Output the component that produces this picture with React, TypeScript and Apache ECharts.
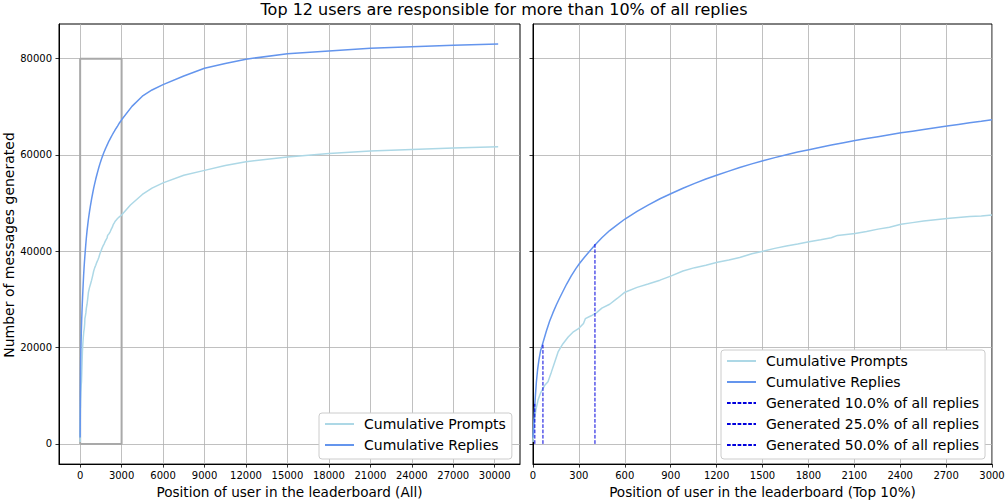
import React, { useEffect, useRef } from 'react';
import * as echarts from 'echarts';

const FONT = 'DejaVu Sans';
const TITLE = 'Top 12 users are responsible for more than 10% of all replies';
const Y_NAME = 'Number of messages generated';
const X_NAME_ALL = 'Position of user in the leaderboard (All)';
const X_NAME_TOP = 'Position of user in the leaderboard (Top 10%)';

// cumulative replies [leaderboard position, cumulative count]
const replies: [number, number][] = [
  [0, 1300], [2, 2600], [5, 4200], [8, 6000], [12, 8305], [17, 10600], [22, 12800],
  [30, 15400], [39, 17500], [50, 19400], [65, 21000], [87, 23400], [109, 25500],
  [130, 27200], [153, 28900], [174, 30300], [196, 31700], [220, 33200], [250, 34900],
  [280, 36400], [305, 37500], [335, 38700], [360, 39650], [405, 41300], [450, 42800],
  [501, 44300], [550, 45500], [601, 46700], [680, 48300], [752, 49600], [830, 50900],
  [904, 52000], [980, 53100], [1057, 54100], [1130, 55000], [1205, 55850], [1280, 56650],
  [1351, 57400], [1430, 58150], [1503, 58800], [1580, 59450], [1656, 60050], [1730, 60600],
  [1804, 61100], [1880, 61600], [1950, 62050], [2030, 62550], [2105, 63000], [2180, 63400],
  [2255, 63800], [2330, 64200], [2405, 64600], [2480, 64950], [2553, 65300], [2630, 65650],
  [2706, 66000], [2780, 66350], [2854, 66700], [2930, 67000], [3000, 67300],
  [3750, 70100], [4500, 72200], [5200, 73500], [6000, 74600], [7500, 76400],
  [9000, 78000], [10500, 79000], [12000, 79900], [15000, 81000], [18000, 81600],
  [21000, 82150], [24000, 82500], [27000, 82800], [30250, 83050],
];

// cumulative prompts [leaderboard position, cumulative count]
const prompts: [number, number][] = [
  [0, 400], [5, 2600], [11, 5400], [20, 7200], [33, 9100], [50, 10600], [65, 11500],
  [80, 12300], [98, 12900], [110, 14000], [120, 14900], [140, 16800], [164, 19100],
  [180, 20000], [196, 20800], [230, 22200], [261, 23200], [300, 24000], [330, 25000],
  [342, 26000], [380, 26600], [414, 27200], [450, 28200], [501, 29000], [550, 30200],
  [601, 31500], [680, 32500], [752, 33200], [830, 34000], [904, 34900], [980, 35900],
  [1057, 36600], [1130, 37100], [1205, 37700], [1280, 38200], [1351, 38700], [1430, 39500],
  [1503, 40000], [1580, 40600], [1656, 41100], [1730, 41500], [1804, 42000], [1880, 42400],
  [1950, 42800], [1990, 43300], [2105, 43700], [2180, 44100], [2255, 44600], [2330, 45000],
  [2405, 45600], [2480, 45950], [2553, 46300], [2630, 46550], [2706, 46800], [2780, 47000],
  [2854, 47200], [2930, 47350], [3000, 47550],
  [3640, 49600], [4500, 51800], [5200, 53100], [6000, 54200], [7500, 55800],
  [9000, 56800], [10500, 57800], [12000, 58600], [15000, 59600], [18000, 60300],
  [21000, 60800], [24000, 61150], [27000, 61450], [30250, 61700],
];

const leftXTicks = [0, 3000, 6000, 9000, 12000, 15000, 18000, 21000, 24000, 27000, 30000];
const yTicks = [0, 20000, 40000, 60000, 80000];
const zoomBox: [number, number][] = [[0, 0], [3000, 0], [3000, 80000], [0, 80000], [0, 0]];

const thresholdLabels = [
  'Generated 10.0% of all replies',
  'Generated 25.0% of all replies',
  'Generated 50.0% of all replies',
];
const thresholdPositions = [12, 65, 405];
const thresholdValues = [8305, 20760, 41525];

const PROMPT_COLOR = '#add8e6';
const REPLY_COLOR = '#6495ed';
const DASH_COLOR = '#0000dd';

export default function App() {
  const ref = useRef<HTMLDivElement>(null);
  useEffect(() => {
    if (!ref.current) return;
    const chart = echarts.init(ref.current, null, { renderer: 'svg' });

    const plain = (v: number) => String(v);

    const axisBase = {
      type: 'value' as const,
      axisLine: { show: true, onZero: false, lineStyle: { color: '#000', width: 1 } },
      axisTick: { show: true, length: 3.5, lineStyle: { color: '#000', width: 0.8 } },
      axisLabel: { color: '#000', fontSize: 10, fontFamily: FONT, margin: 6, formatter: plain },
      splitLine: { show: true, lineStyle: { color: '#b0b0b0', width: 0.8 } },
    };

    const lineSeries = (name: string, data: [number, number][], color: string, idx: number) => ({
      name,
      type: 'line',
      xAxisIndex: idx,
      yAxisIndex: idx,
      data,
      symbol: 'none',
      lineStyle: { color, width: 1.5 },
      itemStyle: { color },
      silent: true,
    });

    const rightPrompts = prompts.filter((p) => p[0] <= 3000);
    const rightReplies = replies.filter((p) => p[0] <= 3000);

    const legendBase = {
      orient: 'vertical' as const,
      selectedMode: false,
      itemWidth: 29,
      itemHeight: 14,
      itemGap: 7,
      padding: [4, 6, 7, 5],
      backgroundColor: '#ffffff',
      borderColor: '#cccccc',
      borderWidth: 1,
      borderRadius: 3,
      itemStyle: { opacity: 0 },
      textStyle: { fontSize: 14, fontFamily: FONT, color: '#000', padding: [0, 0, 0, 5] },
    };

    const xName = { fontSize: 13.6, fontFamily: FONT, color: '#000' };

    chart.setOption({
      animation: false,
      backgroundColor: '#ffffff',
      title: {
        text: TITLE,
        left: 'center',
        top: 1,
        padding: 0,
        textStyle: { fontSize: 16, fontWeight: 'normal', fontFamily: FONT, color: '#000' },
      },
      grid: [
        { left: 59, top: 24, width: 461, height: 442, show: true, borderColor: '#000', borderWidth: 1, backgroundColor: 'transparent' },
        { left: 533, top: 24, width: 459, height: 442, show: true, borderColor: '#000', borderWidth: 1, backgroundColor: 'transparent' },
      ],
      xAxis: [
        {
          ...axisBase,
          gridIndex: 0,
          min: -1530,
          max: 31830,
          axisTick: { ...axisBase.axisTick, customValues: leftXTicks },
          axisLabel: { ...axisBase.axisLabel, customValues: leftXTicks },
          name: X_NAME_ALL,
          nameLocation: 'middle',
          nameGap: 19,
          nameTextStyle: xName,
        },
        {
          ...axisBase,
          gridIndex: 1,
          min: 0,
          max: 3000,
          interval: 300,
          axisLabel: { ...axisBase.axisLabel, showMinLabel: true, showMaxLabel: true },
          name: X_NAME_TOP,
          nameLocation: 'middle',
          nameGap: 19,
          nameTextStyle: xName,
        },
      ],
      yAxis: [
        {
          ...axisBase,
          gridIndex: 0,
          min: -4200,
          max: 87200,
          axisTick: { ...axisBase.axisTick, customValues: yTicks },
          axisLabel: { ...axisBase.axisLabel, margin: 7, customValues: yTicks },
        },
        {
          ...axisBase,
          gridIndex: 1,
          min: -4200,
          max: 87200,
          axisTick: { ...axisBase.axisTick, customValues: yTicks },
          axisLabel: { show: false, customValues: yTicks },
        },
      ],
      legend: [
        {
          ...legendBase,
          left: 319,
          top: 413,
          data: ['Cumulative Prompts', 'Cumulative Replies'],
        },
        {
          ...legendBase,
          left: 721,
          top: 350,
          data: ['Cumulative Prompts', 'Cumulative Replies', ...thresholdLabels],
        },
      ],
      graphic: [
        {
          type: 'text',
          x: 9,
          y: 245,
          rotation: Math.PI / 2,
          style: {
            text: Y_NAME,
            fontSize: 14,
            fontFamily: FONT,
            fill: '#000',
            align: 'center',
            verticalAlign: 'middle',
          },
        },
      ],
      series: [
        {
          name: 'zoom area',
          type: 'line',
          xAxisIndex: 0,
          yAxisIndex: 0,
          data: zoomBox,
          symbol: 'none',
          lineStyle: { color: '#a9a9a9', width: 2 },
          silent: true,
        },
        lineSeries('Cumulative Prompts', prompts, PROMPT_COLOR, 0),
        lineSeries('Cumulative Replies', replies, REPLY_COLOR, 0),
        lineSeries('Cumulative Prompts', rightPrompts, PROMPT_COLOR, 1),
        lineSeries('Cumulative Replies', rightReplies, REPLY_COLOR, 1),
        ...thresholdLabels.map((label, i) => ({
          name: label,
          type: 'line',
          xAxisIndex: 1,
          yAxisIndex: 1,
          data: [
            [thresholdPositions[i], 0],
            [thresholdPositions[i], thresholdValues[i]],
          ],
          symbol: 'none',
          lineStyle: { color: DASH_COLOR, width: 1, type: [3.7, 1.6] },
          itemStyle: { color: DASH_COLOR },
          silent: true,
        })),
      ],
    });
    return () => chart.dispose();
  }, []);
  return (
    <div
      ref={ref}
      style={{ position: 'fixed', left: 0, top: 0, width: 1008, height: 504 }}
    />
  );
}
